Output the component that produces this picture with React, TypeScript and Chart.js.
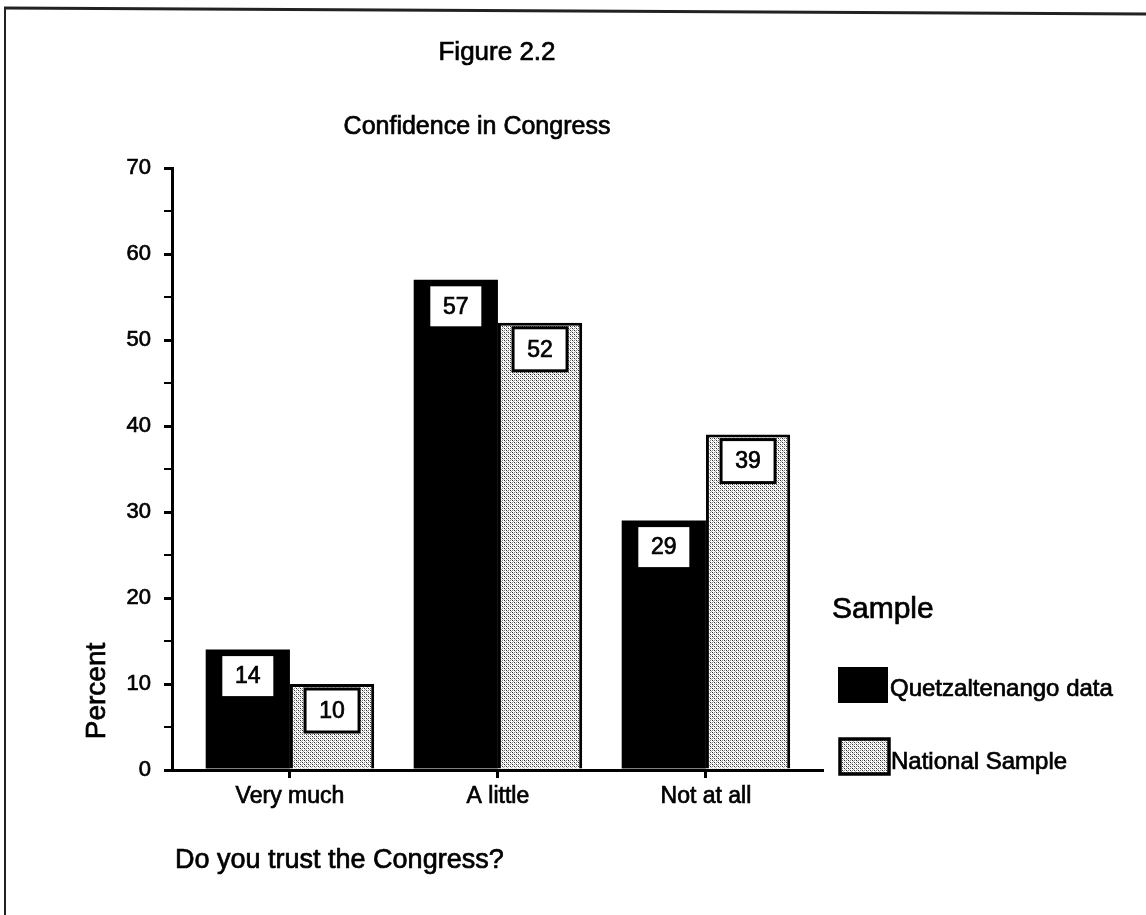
import React, { useEffect, useRef } from "react";
import { Chart, registerables } from "chart.js";

Chart.register(...registerables);

const CATEGORIES = ["Very much", "A little", "Not at all"];
const QUETZALTENANGO = [14, 57, 29];
const NATIONAL = [10, 52, 39];
const SERIES_NAMES = ["Quetzaltenango data", "National Sample"];
const Y_TICKS_MAJOR = [0, 10, 20, 30, 40, 50, 60, 70];

const FONT = '"Liberation Sans", Arial, Helvetica, sans-serif';
const STROKE = 0.7;

function makePattern(): CanvasPattern | string {
  const c = document.createElement("canvas");
  c.width = 4;
  c.height = 4;
  const g = c.getContext("2d");
  if (!g) return "#c8c8c8";
  g.fillStyle = "#ffffff";
  g.fillRect(0, 0, 4, 4);
  g.fillStyle = "#2a2a2a";
  g.fillRect(0, 0, 1, 1);
  g.fillRect(2, 2, 1, 1);
  g.fillStyle = "#888888";
  g.fillRect(2, 0, 1, 1);
  g.fillRect(0, 2, 1, 1);
  g.fillStyle = "#aaaaaa";
  g.fillRect(1, 1, 1, 1);
  g.fillRect(3, 3, 1, 1);
  const p = g.createPattern(c, "repeat");
  return p || "#c8c8c8";
}

function heavyText(ctx: CanvasRenderingContext2D, s: string, x: number, y: number) {
  ctx.fillText(s, x, y);
  ctx.save();
  ctx.strokeStyle = "#000";
  ctx.lineWidth = STROKE;
  ctx.strokeText(s, x, y);
  ctx.restore();
}

export default function App() {
  const ref = useRef<HTMLCanvasElement | null>(null);

  useEffect(() => {
    if (!ref.current) return;
    const pattern = makePattern();

    const decor = {
      id: "decor",
      afterDatasetsDraw(chart: any) {
        const ctx = chart.ctx;
        ctx.save();
        const values = [QUETZALTENANGO, NATIONAL];
        for (let d = 0; d < 2; d++) {
          const meta = chart.getDatasetMeta(d);
          meta.data.forEach((bar: any, i: number) => {
            const w = 54;
            const h = 43;
            const x = bar.x - w / 2;
            const y = bar.y + 5;
            ctx.fillStyle = "#ffffff";
            ctx.fillRect(x, y, w, h);
            ctx.strokeStyle = "#000000";
            ctx.lineWidth = 3;
            ctx.strokeRect(x, y, w, h);
            ctx.fillStyle = "#000000";
            ctx.font = `23px ${FONT}`;
            ctx.textAlign = "center";
            ctx.textBaseline = "middle";
            heavyText(ctx, String(values[d][i]), bar.x, y + h / 2 + 1);
          });
        }
        ctx.restore();
      },
      afterDraw(chart: any) {
        const ctx = chart.ctx;
        ctx.save();
        // frame
        ctx.strokeStyle = "#222";
        ctx.lineWidth = 3;
        ctx.beginPath();
        ctx.moveTo(4, 8);
        ctx.lineTo(1146, 14);
        ctx.stroke();
        ctx.lineWidth = 2;
        ctx.beginPath();
        ctx.moveTo(5, 8);
        ctx.lineTo(5, 915);
        ctx.stroke();

        ctx.fillStyle = "#000";
        ctx.textAlign = "center";
        ctx.textBaseline = "alphabetic";
        ctx.font = `26px ${FONT}`;
        heavyText(ctx, "Figure 2.2", 497, 60);
        ctx.font = `25px ${FONT}`;
        heavyText(ctx, "Confidence in Congress", 477, 134);
        ctx.textAlign = "left";
        ctx.font = `27px ${FONT}`;
        heavyText(ctx, "Do you trust the Congress?", 175, 868);

        // y title
        ctx.save();
        ctx.translate(105, 691);
        ctx.rotate(-Math.PI / 2);
        ctx.textAlign = "center";
        ctx.font = `28px ${FONT}`;
        heavyText(ctx, "Percent", 0, 0);
        ctx.restore();

        // legend
        ctx.textAlign = "left";
        ctx.font = `30px ${FONT}`;
        heavyText(ctx, "Sample", 832, 618);
        ctx.fillStyle = "#000";
        ctx.fillRect(838, 667, 50, 36);
        ctx.font = `24px ${FONT}`;
        heavyText(ctx, SERIES_NAMES[0], 890, 696);
        ctx.fillStyle = pattern;
        ctx.fillRect(840, 739, 49, 35);
        ctx.strokeStyle = "#000";
        ctx.lineWidth = 3.5;
        ctx.strokeRect(840, 739, 49, 35);
        ctx.fillStyle = "#000";
        heavyText(ctx, SERIES_NAMES[1], 891, 769);
        ctx.restore();
      },
    };

    const chart = new Chart(ref.current, {
      type: "bar",
      data: {
        datasets: [
          {
            label: SERIES_NAMES[0],
            data: QUETZALTENANGO.map((v, i) => ({ x: i, y: v })),
            backgroundColor: "#000000",
            borderWidth: 0,
          },
          {
            label: SERIES_NAMES[1],
            data: NATIONAL.map((v, i) => ({ x: i, y: v })),
            backgroundColor: pattern as any,
            borderColor: "#000000",
            borderWidth: 3,
          },
        ],
      },
      options: {
        responsive: false,
        animation: false,
        devicePixelRatio: 1,
        layout: { padding: { top: 168, right: 324, left: 0, bottom: 0 } },
        datasets: {
          bar: { categoryPercentage: 0.81, barPercentage: 1 },
        },
        plugins: {
          legend: { display: false },
          title: { display: false },
          tooltip: { enabled: false },
        },
        scales: {
          x: {
            type: "linear",
            offset: false,
            min: -0.567,
            max: 2.558,
            afterBuildTicks: (scale: any) => {
              scale.ticks = CATEGORIES.map((_, i) => ({ value: i }));
            },
            afterFit: (scale: any) => {
              scale.height = 145;
            },
            ticks: {
              callback: (v: any) => CATEGORIES[v as number] ?? "",
              color: "#000",
              font: { family: FONT, size: 23 },
              padding: 5,
              maxRotation: 0,
              autoSkip: false,
              textStrokeColor: "#000",
              textStrokeWidth: STROKE,
            },
            grid: {
              display: true,
              offset: false,
              drawOnChartArea: false,
              drawTicks: true,
              tickLength: 8,
              color: "#000",
              lineWidth: 3,
            },
            border: { display: true, color: "#000", width: 3 },
          },
          y: {
            min: 0,
            max: 70,
            afterFit: (scale: any) => {
              scale.width = 172;
            },
            ticks: {
              stepSize: 5,
              callback: (v: any) =>
                Y_TICKS_MAJOR.includes(v as number) ? String(v) : "",
              color: "#000",
              font: { family: FONT, size: 22 },
              padding: 13,
              textStrokeColor: "#000",
              textStrokeWidth: STROKE,
            },
            grid: {
              display: true,
              drawOnChartArea: false,
              drawTicks: true,
              tickLength: 8,
              color: "#000",
              lineWidth: (c: any) =>
                c.tick && c.tick.value % 10 === 0 ? 3 : 2,
            },
            border: { display: true, color: "#000", width: 3 },
          },
        },
      },
      plugins: [decor],
    } as any);

    return () => chart.destroy();
  }, []);

  return (
    <div
      style={{
        position: "fixed",
        left: 0,
        top: 0,
        width: 1146,
        height: 915,
        background: "#fff",
      }}
    >
      <canvas ref={ref} width={1146} height={915} />
    </div>
  );
}
